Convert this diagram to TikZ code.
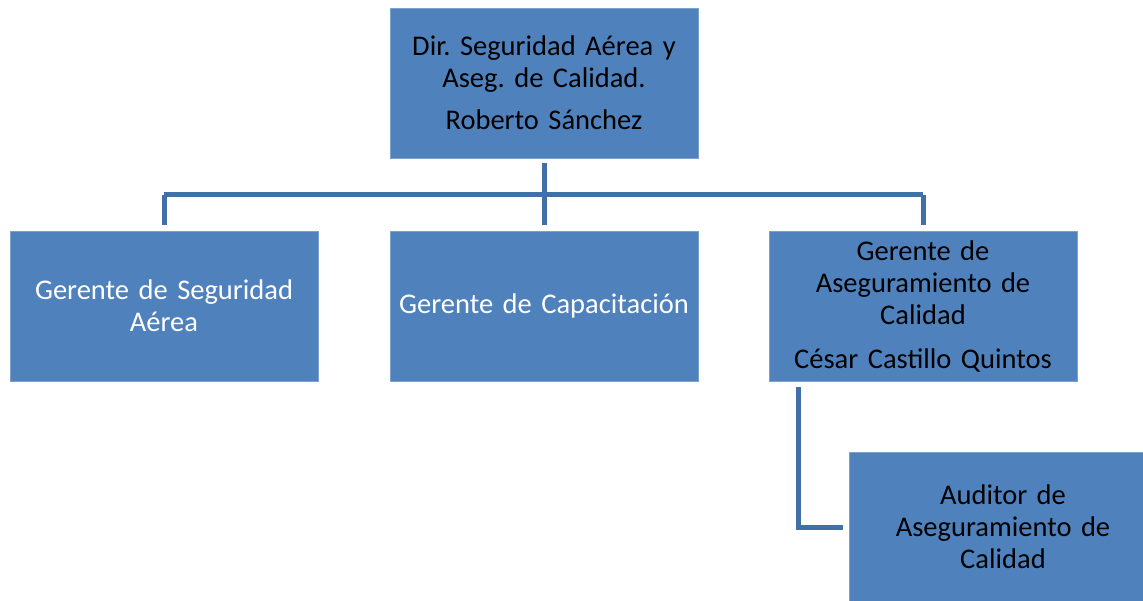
\documentclass[tikz,border=0pt]{standalone}
\usepackage{fontspec}
\setmainfont{Carlito}
\frenchspacing
\usepackage{tikz}
\usetikzlibrary{positioning}
\definecolor{boxfill}{RGB}{79,129,189}
\definecolor{boxedge}{RGB}{125,160,205}
\definecolor{linkcol}{RGB}{64,112,166}
\tikzset{
	unit/.style     = {draw = boxedge, fill = boxfill, rectangle, minimum width = 308pt,
		minimum height = 150pt, text width = 300pt, align = center, inner sep = 0pt,
		font = \fontsize{28.5}{32}\selectfont},
	darktext/.style = {unit, text = black},
	lighttext/.style= {unit, text = white},
	link/.style     = {draw = linkcol, line width = 5pt}
}

\begin{document}
\begin{tikzpicture}[x=1pt, y=-1pt]
	\path[use as bounding box, clip] (0,0) rectangle (1143,601);
	\draw
	node at (544,83)[darktext] (dir) {Dir. Seguridad Aérea y\\Aseg. de Calidad.\\[10pt]Roberto Sánchez}
	node at (164,306)[lighttext] (segu) {Gerente de Seguridad\\Aérea}
	node at (544,306)[lighttext] (capa) {Gerente de Capacitación}
	node at (923,306)[darktext] (cali) {Gerente de\\Aseguramiento de\\Calidad\\[12pt]César Castillo Quintos}
	node at (1003,527)[darktext] (audi) {Auditor de\\Aseguramiento de\\Calidad};
	
	\coordinate (bus) at (544,195);
	\draw[link, shorten <=5pt](dir.south) -- (bus);
	\draw[link](segu.north |- bus) -- (cali.north |- bus);
	\foreach \n in {segu,capa,cali}
		\draw[link, shorten >=6pt](\n.north |- bus) -- (\n.north);
	\draw[link, shorten <=6pt, shorten >=6pt]([xshift=-125pt]cali.south) |- (audi.west);
\end{tikzpicture}
\end{document}
